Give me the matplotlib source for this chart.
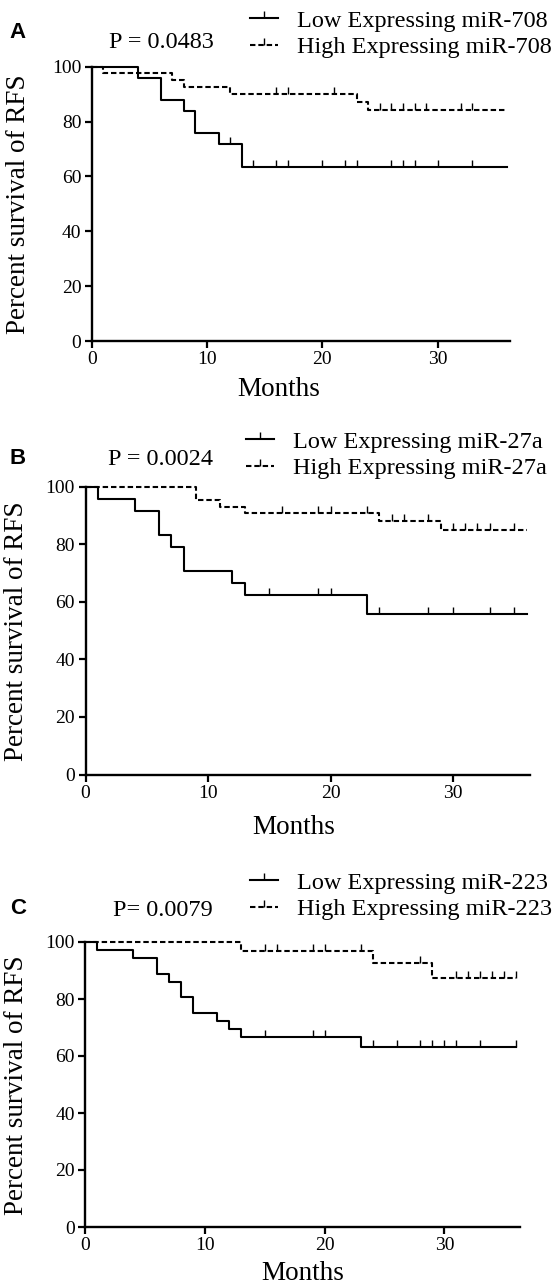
import matplotlib
matplotlib.use("Agg")
import matplotlib.pyplot as plt
import numpy as np
from matplotlib.lines import Line2D

# ---------------- data ----------------
# Panel A (miR-708)
a_low_t = [0, 4, 6, 8, 9, 11, 13, 36]
a_low_s = [100, 96, 88, 84, 76, 72, 63.5, 63.5]
a_low_c = [12, 14, 16, 17, 20, 22, 23, 26, 27, 28, 30, 33]
a_high_t = [0, 1, 7, 8, 12, 23, 24, 36]
a_high_s = [100, 97.6, 95.1, 92.7, 90.2, 87.2, 84.1, 84.1]
a_high_c = [16, 17, 21, 25, 26, 27, 28, 29, 32, 33]

# Panel B (miR-27a)
b_low_t = [0, 1, 4, 6, 7, 8, 12, 13, 23, 36]
b_low_s = [100, 95.8, 91.7, 83.3, 79.2, 70.8, 66.7, 62.5, 55.6, 55.6]
b_low_c = [15, 19, 20, 24, 28, 30, 33, 35]
b_high_t = [0, 9, 11, 13, 24, 29, 36]
b_high_s = [100, 95.3, 93.0, 90.7, 88.2, 84.9, 84.9]
b_high_c = [16, 19, 20, 23, 25, 26, 28, 30, 31, 32, 33, 35]

# Panel C (miR-223)
c_low_t = [0, 1, 4, 6, 7, 8, 9, 11, 12, 13, 23, 36]
c_low_s = [100, 97.2, 94.4, 88.9, 86.1, 80.6, 75.0, 72.2, 69.4, 66.7, 63.3, 63.3]
c_low_c = [15, 19, 20, 24, 26, 28, 29, 30, 31, 33, 36]
c_high_t = [0, 13, 24, 29, 36]
c_high_s = [100, 96.8, 92.8, 87.4, 87.4]
c_high_c = [15, 16, 19, 20, 23, 28, 31, 32, 33, 34, 35, 36]

panel_letters = ["A", "B", "C"]
p_texts = ["P = 0.0483", "P = 0.0024", "P= 0.0079"]
mirs = ["miR-708", "miR-27a", "miR-223"]
x_ticks = [0, 10, 20, 30]
y_ticks = [0, 20, 40, 60, 80, 100]
y_label = "Percent survival of RFS"
x_label = "Months"

# ---------------- layout (pixels) ----------------
W, H = 559, 1288
fig = plt.figure(figsize=(W / 100, H / 100), dpi=100)
SERIF = "Liberation Serif"
SANS = "Liberation Sans"


def rect(x0, ppm, xmax, ytop, ybot):
    right = x0 + ppm * xmax
    return [x0 / W, 1 - ybot / H, (right - x0) / W, (ybot - ytop) / H]


XMAX = 36.3
panels = [
    dict(rect=rect(91.7, 11.53, XMAX, 66.7, 341.0), data=(a_low_t, a_low_s, a_low_c, a_high_t, a_high_s, a_high_c),
         letter=(18, 33), ptxt=(161, 42), leg=(250, 34), months=(279, 390), ylab=(19, 204)),
    dict(rect=rect(85.5, 12.25, XMAX, 486.7, 774.5), data=(b_low_t, b_low_s, b_low_c, b_high_t, b_high_s, b_high_c),
         letter=(18, 458), ptxt=(161, 459), leg=(246, 455), months=(294, 827), ylab=(17, 631)),
    dict(rect=rect(85.3, 11.97, XMAX, 942.0, 1227.0), data=(c_low_t, c_low_s, c_low_c, c_high_t, c_high_s, c_high_c),
         letter=(18, 909), ptxt=(163, 910), leg=(250, 896), months=(303, 1274), ylab=(17, 1085)),
]

DASH = (0, (2.6, 1.4))
LW = 1.5


def step_val(t, s, x):
    idx = np.searchsorted(np.asarray(t), x, side="right") - 1
    return np.asarray(s)[idx]


for i, p in enumerate(panels):
    ax = fig.add_axes(p["rect"])
    lt, ls_, lc, ht, hs, hc = p["data"]
    ax.step(lt, ls_, where="post", color="black", lw=LW, clip_on=False, zorder=3)
    ax.plot(lc, step_val(lt, ls_, lc), ls="none", marker=2, ms=5, mew=1.0, color="black", clip_on=False, zorder=3)
    ax.step(ht, hs, where="post", color="black", lw=LW, ls=DASH, clip_on=False, zorder=3)
    ax.plot(hc, step_val(ht, hs, hc), ls="none", marker=2, ms=5, mew=1.0, color="black", clip_on=False, zorder=3)

    ax.set_xlim(0, XMAX)
    ax.set_ylim(0, 100)
    ax.set_xticks(x_ticks)
    ax.set_yticks(y_ticks)
    ax.set_xticklabels([str(v) for v in x_ticks], family=SERIF, fontsize=14)
    ax.set_yticklabels([str(v) for v in y_ticks], family=SERIF, fontsize=14)
    for side in ("top", "right"):
        ax.spines[side].set_visible(False)
    for side in ("left", "bottom"):
        ax.spines[side].set_linewidth(1.7)
    ax.tick_params(direction="out", length=5, width=1.6, pad=2.5)
    ax.patch.set_alpha(0)

    fig.text(p["ylab"][0] / W, 1 - p["ylab"][1] / H, y_label, rotation=90, ha="center", va="center",
             family=SERIF, fontsize=19.5)
    fig.text(p["months"][0] / W, 1 - p["months"][1] / H, x_label, ha="center", va="center",
             family=SERIF, fontsize=19.5)
    fig.text(p["letter"][0] / W, 1 - p["letter"][1] / H, panel_letters[i], ha="center", va="center",
             family=SANS, fontweight="bold", fontsize=16)
    fig.text(p["ptxt"][0] / W, 1 - p["ptxt"][1] / H, p_texts[i], ha="center", va="center",
             family=SERIF, fontsize=17.5)

    handles = [
        Line2D([], [], color="black", lw=LW, ls="-", marker=2, ms=5, mew=1.0),
        Line2D([], [], color="black", lw=LW, ls=DASH, marker=2, ms=5, mew=1.0),
    ]
    labels = ["Low Expressing " + mirs[i], "High Expressing " + mirs[i]]
    fig.legend(handles, labels, loc="center left", bbox_to_anchor=(p["leg"][0] / W, 1 - p["leg"][1] / H),
               frameon=False, prop={"family": SERIF, "size": 17.5}, handlelength=1.15, handletextpad=0.8,
               labelspacing=0.2, borderpad=0, borderaxespad=0, numpoints=1)

fig.savefig("out.png", dpi=100)
